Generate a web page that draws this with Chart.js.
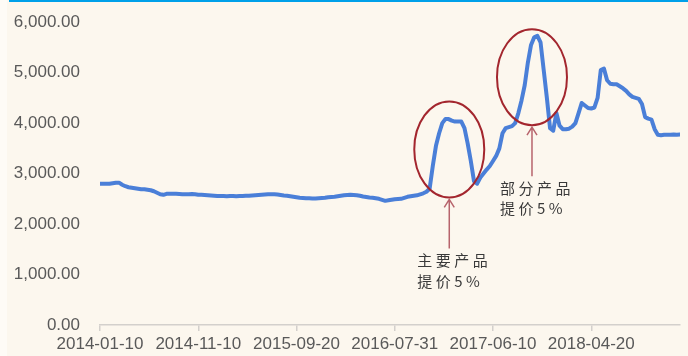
<!DOCTYPE html>
<html>
<head>
<meta charset="utf-8">
<script src="https://cdn.jsdelivr.net/npm/chart.js@4"></script>
<style>
  html, body { margin: 0; padding: 0; background: #fcf7ee; overflow: hidden; }
  .chart-wrap { position: relative; width: 688px; height: 356px; }
</style>
</head>
<body>
<div class="chart-wrap">
  <canvas id="priceChart"></canvas>
</div>
<script>
// dekad price series, one value every 10 days from 2014-01-10
const prices = [
  2800, 2800, 2800, 2800, 2810, 2820, 2820, 2780, 2750, 2730,
  2720, 2710, 2700, 2690, 2690, 2680, 2670, 2650, 2620, 2590,
  2580, 2600, 2600, 2600, 2600, 2595, 2590, 2590, 2590, 2595,
  2590, 2580, 2580, 2575, 2570, 2565, 2560, 2555, 2555, 2555,
  2550, 2555, 2555, 2550, 2555, 2555, 2560, 2560, 2565, 2570,
  2575, 2580, 2585, 2590, 2590, 2590, 2585, 2575, 2565, 2560,
  2550, 2540, 2530, 2520, 2515, 2510, 2510, 2505, 2505, 2510,
  2515, 2520, 2530, 2535, 2540, 2550, 2560, 2570, 2575, 2580,
  2575, 2570, 2560, 2545, 2535, 2525, 2520, 2510, 2500, 2480,
  2460, 2470, 2480, 2490, 2495, 2500, 2520, 2540, 2550, 2560,
  2570, 2590, 2610, 2640, 2700, 3150, 3550, 3800, 4000, 4080,
  4080, 4050, 4030, 4030, 4030, 3900, 3600, 3250, 2850, 2800,
  2920, 3000, 3080, 3150, 3250, 3350, 3500, 3800, 3900, 3920,
  3940, 4000, 4200, 4450, 4750, 5200, 5550, 5700, 5730, 5600,
  5050, 4500, 3900, 3850, 4200, 3950, 3880, 3880, 3890, 3930,
  4000, 4200, 4400, 4350, 4300, 4290, 4310, 4500, 5050, 5080,
  4850, 4780, 4770, 4770, 4730, 4690, 4640, 4570, 4520, 4500,
  4480, 4380, 4120, 4090, 4070, 3880, 3770, 3760, 3770, 3770,
  3770, 3775, 3770, 3775
];

// which points carry a date label on the x axis
const tickIndex = [0, 31, 62, 93, 124, 155];
const tickLabels = ['2014-01-10', '2014-11-10', '2015-09-20', '2016-07-31', '2017-06-10', '2018-04-20'];

// price hike notes: circled region (index / value at the centre) and caption
const noteIndex = [110.2, 136.3];
const noteValue = [3480, 4910];
const noteText = [['主要产品', '提价5%'], ['部分产品', '提价5%']];

const axisColor = '#d3d0cc';
const labelColor = '#595959';

const notesPlugin = {
  id: 'notes',
  beforeDraw(chart) {
    const ctx = chart.ctx;
    ctx.save();
    ctx.fillStyle = '#fcf7ee';
    ctx.fillRect(0, 0, chart.width, chart.height);
    ctx.fillStyle = '#fefbf6';
    ctx.fillRect(0, 0, 7, chart.height);
    ctx.fillStyle = '#00a0e9';
    ctx.fillRect(9, 0, chart.width - 9, 2);
    ctx.restore();
  },
  afterDatasetsDraw(chart) {
    const ctx = chart.ctx;
    const xs = chart.scales.x;
    const ys = chart.scales.y;
    ctx.save();
    noteIndex.forEach((idx, n) => {
      const cx = xs.getPixelForValue(idx);
      const cy = ys.getPixelForValue(noteValue[n]);
      const rx = 35, ry = 48;

      ctx.strokeStyle = '#a3262e';
      ctx.lineWidth = 2;
      ctx.beginPath();
      ctx.ellipse(cx, cy, rx, ry, 0, 0, Math.PI * 2);
      ctx.stroke();

      // arrow pointing up at the circle
      const tip = cy + ry + 2;
      const end = tip + 49;
      ctx.strokeStyle = '#b7646c';
      ctx.lineWidth = 1.5;
      ctx.beginPath();
      ctx.moveTo(cx, end);
      ctx.lineTo(cx, tip);
      ctx.moveTo(cx - 5, tip + 8);
      ctx.lineTo(cx, tip);
      ctx.lineTo(cx + 5, tip + 8);
      ctx.stroke();

      ctx.fillStyle = '#3a3a3a';
      ctx.font = '15px "Noto Sans CJK SC"';
      ctx.textBaseline = 'middle';
      ctx.textAlign = 'left';
      if ('letterSpacing' in ctx) ctx.letterSpacing = '3.5px';
      noteText[n].forEach((line, k) => {
        ctx.fillText(line, cx - 32, end + 12 + k * 20.5);
      });
    });
    ctx.restore();
  }
};

const ctx = document.getElementById('priceChart').getContext('2d');
new Chart(ctx, {
  type: 'line',
  data: {
    datasets: [{
      data: prices.map((v, i) => ({ x: i, y: v })),
      borderColor: '#4a7fd8',
      borderWidth: 4,
      borderJoinStyle: 'round',
      borderCapStyle: 'round',
      pointRadius: 0,
      tension: 0,
      fill: false
    }]
  },
  options: {
    responsive: true,
    maintainAspectRatio: false,
    animation: false,
    layout: { padding: { left: 0, right: 8, top: 19, bottom: 0 } },
    plugins: {
      legend: { display: false },
      tooltip: { enabled: false }
    },
    scales: {
      x: {
        type: 'linear',
        min: 0,
        max: prices.length - 1,
        afterBuildTicks: (scale) => {
          scale.ticks = tickIndex.map(v => ({ value: v }));
        },
        afterFit: (scale) => { scale.height = 31; },
        border: { display: true, color: axisColor, width: 1.5 },
        grid: {
          display: true,
          drawOnChartArea: false,
          drawTicks: true,
          tickLength: 6,
          color: axisColor,
          lineWidth: 1.5
        },
        ticks: {
          autoSkip: false,
          maxRotation: 0,
          padding: 3,
          color: labelColor,
          font: { family: '"Liberation Sans", Arial', size: 17 },
          callback: (value) => {
            const k = tickIndex.indexOf(value);
            return k >= 0 ? tickLabels[k] : '';
          }
        }
      },
      y: {
        min: 0,
        max: 6000,
        afterFit: (scale) => { scale.width = 100; },
        border: { display: false },
        grid: { display: false },
        ticks: {
          stepSize: 1000,
          padding: 12,
          color: labelColor,
          font: { family: '"Liberation Sans", Arial', size: 17 },
          callback: (value) => value.toLocaleString('en-US', { minimumFractionDigits: 2, maximumFractionDigits: 2 })
        }
      }
    }
  },
  plugins: [notesPlugin]
});
</script>
</body>
</html>
